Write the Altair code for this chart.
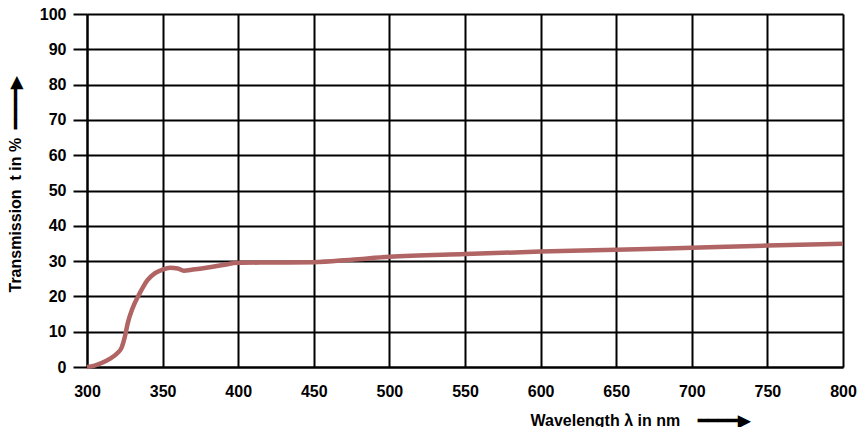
import altair as alt
import pandas as pd

wavelength = [300, 305, 310, 315, 320, 323, 325, 327, 330, 335, 340, 345, 350, 355, 360, 364,
              370, 380, 390, 400, 420, 450, 475, 500, 550, 600, 650, 700, 750, 800]
transmission = [0.0, 0.4, 1.2, 2.3, 3.9, 5.6, 8.5, 12.5, 16.5, 21.0, 24.6, 26.6, 27.6, 28.1, 27.9, 27.3,
                27.6, 28.2, 28.9, 29.5, 29.6, 29.7, 30.4, 31.2, 32.0, 32.7, 33.2, 33.8, 34.4, 34.9]

x_ticks = list(range(300, 801, 50))
y_ticks = list(range(0, 101, 10))

NB = "\u00a0"
ARROW = "\u2501\u2501\u2501\u2501\u25b6"
x_title = "Wavelength" + NB + "\u03bb" + NB + "in" + NB + "nm" + NB * 4 + ARROW
y_title = "Transmission" + NB * 2 + "t" + NB + "in" + NB + "%" + NB * 2 + ARROW

df = pd.DataFrame({"wavelength": wavelength, "transmission": transmission})

FONT = "Liberation Sans"

chart = alt.Chart(df).mark_line(
    color="#b06464", strokeWidth=4.5, interpolate="monotone"
).encode(
    x=alt.X("wavelength:Q",
            scale=alt.Scale(domain=[300, 800], nice=False, zero=False),
            axis=alt.Axis(values=x_ticks, title=x_title, grid=True, ticks=False,
                          labelPadding=16, labelFontSize=16, labelFontWeight="bold",
                          labelFont=FONT, labelColor="black",
                          titleFont=FONT, titleFontSize=16, titleFontWeight="bold",
                          titleColor="black", titleX=443, titleY=53,
                          titleAlign="left", titleBaseline="middle",
                          domainColor="black", domainWidth=2,
                          gridColor="black", gridWidth=2, gridOpacity=1,
                          labelFlush=False)),
    y=alt.Y("transmission:Q",
            scale=alt.Scale(domain=[0, 100], nice=False),
            axis=alt.Axis(values=y_ticks, title=y_title, grid=True, ticks=True,
                          tickSize=14, tickColor="black", tickWidth=2,
                          labelPadding=7, labelFontSize=16, labelFontWeight="bold",
                          labelFont=FONT, labelColor="black",
                          titleFont=FONT, titleFontSize=16, titleFontWeight="bold",
                          titleColor="black", titleX=-72, titleY=278,
                          titleAlign="left", titleBaseline="middle", titleAngle=-90,
                          domainColor="black", domainWidth=2,
                          gridColor="black", gridWidth=2, gridOpacity=1,
                          labelFlush=False)),
).properties(
    width=756, height=353,
    autosize=alt.AutoSizeParams(type="none"),
    padding={"left": 79, "top": 6, "right": 16, "bottom": 60},
).configure_view(
    stroke="black", strokeWidth=2
).configure(background="white")

chart.save("out.html", embed_options={"renderer": "svg", "actions": False})
